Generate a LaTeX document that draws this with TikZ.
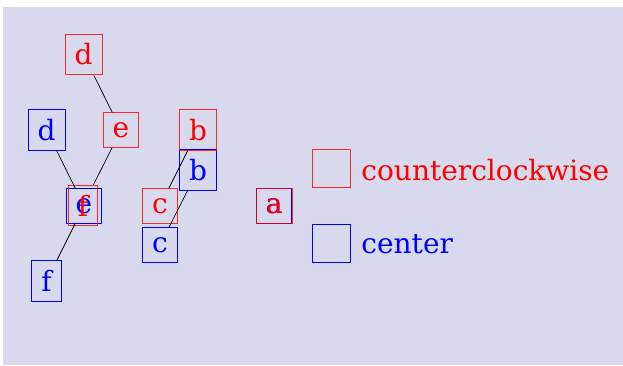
\documentclass[tikz,border=0pt]{standalone}
\usepackage{fontspec}
\setmainfont{DejaVu Serif}
\definecolor{canvas}{RGB}{216,217,236}
\begin{document}
\begin{tikzpicture}[x=1pt,y=-1pt,
  every node/.style={font=\fontsize{28}{32}\selectfont, inner sep=9.5pt, line width=0.9pt},
  ccw/.style={draw=red, text=red, draw opacity=0.8},
  ctr/.style={draw=blue, text=blue},
  legendbox/.style={minimum width=38pt, minimum height=38pt, inner sep=0pt},
  edge/.style={draw=black, line width=0.7pt}]
  \useasboundingbox (0,0) rectangle (623,365);
  \fill[canvas] (3,7) rectangle (623,365);

  % tree grown from the center
  \node[ctr] (bd) at (46.5,130) {d};
  \node[ctr] (bb) at (198,170) {b};
  \node[ctr] (be) at (84,206) {e};
  \node[ctr] (bc) at (160,245) {c};
  \node[ctr] (bf) at (46.5,281) {f};
  \node[ctr] (ba) at (274,206) {a};

  % tree grown counterclockwise
  \node[ccw] (rd) at (83.5,54.5) {d};
  \node[ccw] (re) at (121,130) {e};
  \node[ccw] (rb) at (198,130) {b};
  \node[ccw] (rf) at (83,205.5) {f};
  \node[ccw] (rc) at (160,206) {c};
  \node[ccw] (ra) at (274.5,206) {a};

  % edges
  \draw[edge] (rd) -- (re);
  \draw[edge] (re) -- (rf);
  \draw[edge] (rb) -- (rc);
  \draw[edge] (bd) -- (be);
  \draw[edge] (be) -- (bf);
  \draw[edge] (bb) -- (bc);

  % legend
  \node[ccw, legendbox] (lccw) at (331.5,168) {};
  \node[anchor=base west, inner sep=0pt, text=red] (tccw) at (361,180) {counterclockwise};
  \node[ctr, legendbox] (lctr) at (331.5,243.5) {};
  \node[anchor=base west, inner sep=0pt, text=blue] (tctr) at (361,253) {center};
\end{tikzpicture}
\end{document}
